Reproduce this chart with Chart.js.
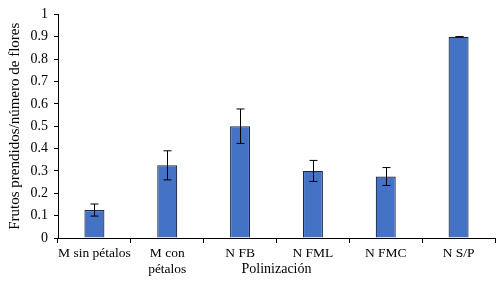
<!DOCTYPE html>
<html lang="es">
<head>
    <meta charset="UTF-8">
    <title>Frutos prendidos por polinización</title>
    <script src="https://cdn.jsdelivr.net/npm/chart.js"></script>
    <style>
        html, body { margin: 0; padding: 0; background: #fff; }
        #wrap { width: 500px; height: 285px; }
    </style>
</head>
<body>
    <div id="wrap"><canvas id="frutosChart"></canvas></div>

    <script>
        // categories and values
        const categorias = ['M sin pétalos', ['M con', 'pétalos'], 'N FB', 'N FML', 'N FMC', 'N S/P'];
        const proporcion = [0.125, 0.325, 0.5, 0.3, 0.275, 0.9];
        const errorEst = [0.027, 0.065, 0.077, 0.047, 0.04, 0];
        const ticksY = [0, 0.1, 0.2, 0.3, 0.4, 0.5, 0.6, 0.7, 0.8, 0.9, 1];

        const serif = "'Liberation Serif', 'Times New Roman', serif";

        // simple error bar plugin
        const errorBars = {
            id: 'errorBars',
            afterDatasetsDraw(chart) {
                const ctx = chart.ctx;
                const yScale = chart.scales.y;
                const meta = chart.getDatasetMeta(0);
                ctx.save();
                ctx.strokeStyle = '#000';
                ctx.lineWidth = 1;
                meta.data.forEach((bar, i) => {
                    const v = proporcion[i], e = errorEst[i];
                    const x = Math.round(bar.x) + 0.5;
                    const yTop = yScale.getPixelForValue(v + e);
                    const yBot = yScale.getPixelForValue(v - e);
                    const cap = 4;
                    ctx.beginPath();
                    ctx.moveTo(x, yTop); ctx.lineTo(x, yBot);
                    ctx.moveTo(x - cap, yTop); ctx.lineTo(x + cap, yTop);
                    ctx.moveTo(x - cap, yBot); ctx.lineTo(x + cap, yBot);
                    ctx.stroke();
                });
                ctx.restore();
            }
        };

        new Chart(document.getElementById('frutosChart'), {
            type: 'bar',
            data: {
                labels: categorias,
                datasets: [{
                    data: proporcion,
                    backgroundColor: '#4472C4',
                    borderColor: '#1c2a48',
                    borderWidth: 1.2,
                    categoryPercentage: 1,
                    barPercentage: 0.275
                }]
            },
            options: {
                responsive: true,
                maintainAspectRatio: false,
                animation: false,
                layout: { padding: { top: 14, right: 5, left: 0, bottom: 0 } },
                plugins: {
                    legend: { display: false },
                    tooltip: { enabled: false }
                },
                scales: {
                    x: {
                        grid: {
                            offset: true,
                            drawOnChartArea: false,
                            drawTicks: true,
                            tickLength: 5,
                            color: '#000'
                        },
                        border: { color: '#000', width: 1 },
                        ticks: {
                            color: '#000',
                            font: { family: serif, size: 13.5 },
                            maxRotation: 0,
                            autoSkip: false,
                            padding: 2
                        },
                        title: {
                            display: true,
                            text: 'Polinización',
                            color: '#000',
                            font: { family: serif, size: 14 },
                            padding: { top: 0, bottom: 7 }
                        },
                        afterFit(scale) { scale.height = 47; }
                    },
                    y: {
                        min: 0,
                        max: 1,
                        afterBuildTicks(scale) {
                            scale.ticks = ticksY.map(v => ({ value: v }));
                        },
                        grid: {
                            drawOnChartArea: false,
                            drawTicks: true,
                            tickLength: 4,
                            color: '#000'
                        },
                        border: { color: '#000', width: 1 },
                        ticks: {
                            color: '#000',
                            font: { family: serif, size: 14 },
                            padding: 6,
                            callback: v => String(v)
                        },
                        title: {
                            display: true,
                            text: 'Frutos prendidos/número de flores',
                            color: '#000',
                            font: { family: serif, size: 15 },
                            padding: { top: 6.5, bottom: 0 }
                        },
                        afterFit(scale) { scale.width = 58; }
                    }
                }
            },
            plugins: [errorBars]
        });
    </script>
</body>
</html>
